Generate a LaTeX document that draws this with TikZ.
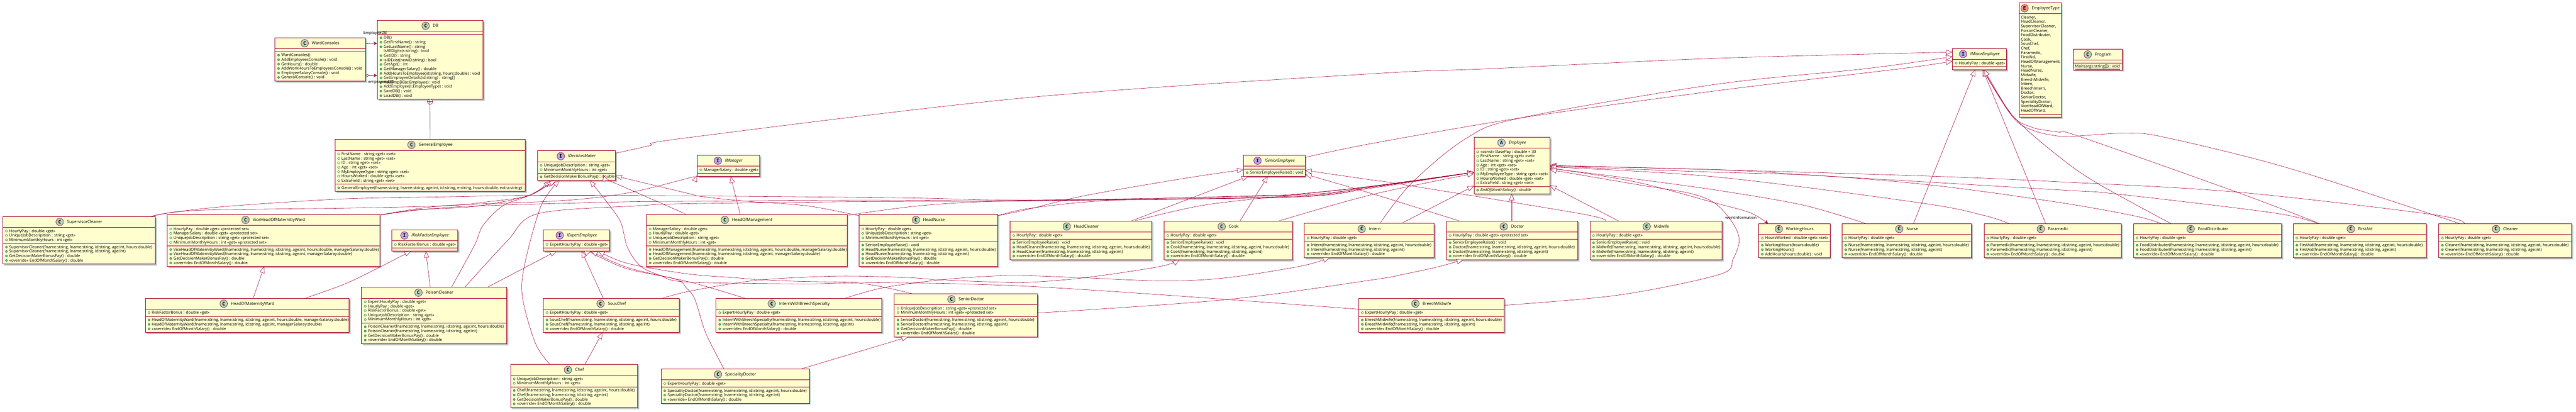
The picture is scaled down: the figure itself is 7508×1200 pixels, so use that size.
\documentclass[tikz,border=0pt]{standalone}
\usepackage{fontspec}
\setmainfont{Open Sans}
\newfontfamily\spotfont{DejaVu Sans Mono}
\usetikzlibrary{arrows.meta,calc}
\definecolor{umlred}{HTML}{A80036}
\definecolor{umlfill}{HTML}{FEFECE}
\definecolor{spotC}{HTML}{ADD1B2}
\definecolor{spotI}{HTML}{B4A7E5}
\definecolor{spotA}{HTML}{A9DCDF}
\definecolor{spotE}{HTML}{EB937F}
\definecolor{markline}{HTML}{038048}
\definecolor{markfill}{HTML}{84BE84}
\newcommand\rowfont{\fontsize{11.55}{13}\selectfont}
\newcommand\titlefont{\fontsize{12}{14}\selectfont}
\def\nm{}
\tikzset{
 x=1pt,y=-1pt,
 classbox/.style={draw=umlred,fill=umlfill,line width=1.1pt,rectangle,inner sep=0pt,outer sep=0pt,anchor=north west},
 sepline/.style={draw=umlred,line width=1pt},
 shadowa/.style={fill=black!14},
 shadowb/.style={fill=black!28},
 spot/.style={circle,draw=umlred,line width=.9pt,inner sep=0pt,minimum size=22pt,font=\spotfont\bfseries\fontsize{14}{14}\selectfont},
 titletxt/.style={anchor=base,inner sep=0pt,outer sep=0pt,font=\titlefont},
 rowtxt/.style={anchor=base west,inner sep=0pt,outer sep=0pt,font=\rowfont},
 lbl/.style={anchor=base west,inner sep=0pt,outer sep=0pt,font=\rowfont},
 attrmark/.style={draw=markline,line width=.8pt},
 methmark/.style={draw=markline,fill=markfill,line width=.8pt},
 link/.style={draw=umlred,line width=.85pt},
 inh/.style={link,line join=miter,-{Triangle[length=19pt,width=15pt,fill=white]}},
 asc/.style={link,-{Stealth[length=11pt,width=10pt,inset=4pt]}},
 agg/.style={link,{Diamond[length=11pt,width=8pt,fill=white]}-{Stealth[length=11pt,width=10pt,inset=4pt]}},
}
% name, kind, title, x1, x2, ytop, nAttrs, nMeths
\newcommand\umlbox[8]{%
 \def\curname{#1}\def\xa{#4}\def\xb{#5}\def\yt{#6}%
 \pgfmathsetmacro\ya{#6+32}%
 \pgfmathsetmacro\ym{\ya+(#7==0?8.5:#7*12.97+8)}%
 \pgfmathsetmacro\ye{\ym+(#8==0?8.5:#8*12.97+8)}%
 \fill[shadowa] (#4+5,#6+5) rectangle (#5+5,\ye+5);
 \fill[shadowb] (#4+3.5,#6+3.5) rectangle (#5+3.5,\ye+3.5);
 \pgfmathsetmacro\bw{#5-#4}\pgfmathsetmacro\bh{\ye-#6}%
 \node[classbox,minimum width=\bw pt,minimum height=\bh pt] (#1) at (#4,#6) {};
 \draw[sepline] (#4,\ya) -- (#5,\ya) (#4,\ym) -- (#5,\ym);
 \pgfmathsetmacro\tx{(#4+#5)/2+16}%
 \node[titletxt] (#1-title) at (\tx,#6+20) {\if#2I\itshape\fi\if#2A\itshape\fi #3};
 \path (#1-title.west) ++(-21,0) coordinate (#1-ic);
 \node[spot,fill=spot#2] (#1-spot) at (#1-ic |- 0,#6+16) {#2};
}
\def\markA#1#2\relax{\ifx#1\nm\else\draw[attrmark] (\xa+10.8,\ry) circle[radius=3pt];\fi}
\def\markM#1#2\relax{\ifx#1\nm\else\draw[methmark] (\xa+10.8,\ry) circle[radius=3pt];\fi}
\newcommand\rowsA[1]{\foreach \t [count=\i] in {#1}{%
  \pgfmathsetmacro\ry{\ya+4+(\i-.5)*12.97}%
  \expandafter\markA\t\relax
  \node[rowtxt] (\curname-a\i) at (\xa+19,\ry+3.8) {\t};}}
\newcommand\rowsM[1]{\foreach \t [count=\i] in {#1}{%
  \pgfmathsetmacro\ry{\ym+4+(\i-.5)*12.97}%
  \expandafter\markM\t\relax
  \node[rowtxt] (\curname-m\i) at (\xa+19,\ry+3.8) {\t};}}
\newcommand\rowsE[1]{\foreach \t [count=\i] in {#1}{%
  \pgfmathsetmacro\ry{\ya+4+(\i-.5)*12.97}%
  \node[rowtxt] (\curname-a\i) at (\xa+5,\ry+3.8) {\t};}}
\newcommand\rowsP[1]{\foreach \t [count=\i] in {#1}{%
  \pgfmathsetmacro\ry{\ym+4+(\i-.5)*12.97}%
  \node[rowtxt] (\curname-m\i) at (\xa+5.5,\ry+3.8) {\underline{\t}};}}
\newcommand\cv[2]{\draw[#1] plot[smooth,tension=.55] coordinates {#2};}
\def\fn{fname:string, lname:string, id:string, age:int}
\def\ov{«override» EndOfMonthSalary() : double}
\def\bp{GetDecisionMakerBonusPay() : double}
\def\hp{HourlyPay : double «get»}
\def\ej{UniqueJobDescripition : string «get»}
\def\mh{MinimumMonthlyHours : int «get»}
\def\sr{SeniorEmployeeRaise() : void}
\begin{document}
\begin{tikzpicture}
\path[use as bounding box,fill=white] (0,0) rectangle (7508,1200);

\umlbox{WardConsoles}{C}{WardConsoles}{801}{1065}{110}{0}{6}
\rowsM{{WardConsoles()},{AddEmployeesConsole() : void},{GetHours() : double},{AddWorkHoursToEmployeesConsole() : void},{EmployeeSalaryConsole() : void},{GeneralConsole() : void}}

\umlbox{DB}{C}{DB}{1099.5}{1408}{59.3}{0}{14}
\rowsM{{DB()},{GetFirstName() : string},{GetLastName() : string},{\nm IsAllDigits(s:string) : bool},{GetID() : string},{isIDExist(newID:string) : bool},{GetAge() : int},{GetManagerSalary() : double},{AddHoursToEmployee(id:string, hours:double) : void},{GetEmployeeDetails(id:string) : string[]},{AddEmpDB(e:Employee) : void},{AddEmployee(t:EmployeeType) : void},{SaveDB() : void},{LoadDB() : void}}

\umlbox{GeneralEmployee}{C}{GeneralEmployee}{976.4}{1530.6}{406.4}{7}{1}
\rowsA{{FirstName : string «get» «set»},{LastName : string «get» «set»},{ID : string «get» «set»},{Age : int «get» «set»},{MyEmployeeType : string «get» «set»},{HoursWorked : double «get» «set»},{ExtraField : string «get» «set»}}
\rowsM{{GeneralEmployee(fname:string, lname:string, age:int, id:string, e:string, hours:double, extra:string)}}

\umlbox{IDecisionMaker}{I}{IDecisionMaker}{1566.3}{1793.4}{439.3}{2}{1}
\rowsA{{\ej},{\mh}}
\rowsM{{\bp}}

\umlbox{SupervisorCleaner}{C}{SupervisorCleaner}{8}{453}{631}{3}{4}
\rowsA{{\hp},{\ej},{\mh}}
\rowsM{{SupervisorCleaner(\fn, hours:double)},{SupervisorCleaner(\fn)},{\bp},{\ov}}

\umlbox{ViceHead}{C}{ViceHeadOfMaternitiyWard}{487}{1106.5}{625.3}{4}{4}
\rowsA{{HourlyPay : double «get» «protected set»},{ManagerSalary : double «get» «protected set»},{UniqueJobDescripition : string «get» «protected set»},{MinimumMonthlyHours : int «get» «protected set»}}
\rowsM{{ViceHeadOfMaternitiyWard(\fn, hours:double, managerSalaray:double)},{ViceHeadOfMaternitiyWard(\fn, managerSalaray:double)},{\bp},{\ov}}

\umlbox{HeadMaternity}{C}{HeadOfMaternityWard}{423.5}{1017.2}{869.4}{1}{3}
\rowsA{{RiskFactorBonus : double «get»}}
\rowsM{{HeadOfMaternityWard(\fn, hours:double, managerSalaray:double)},{HeadOfMaternityWard(\fn, managerSalaray:double)},{\ov}}

\umlbox{IRisk}{I}{IRiskFactorEmployee}{1141.6}{1334.2}{670.4}{1}{0}
\rowsA{{RiskFactorBonus : double «get»}}

\umlbox{IExpert}{I}{IExpertEmployee}{1583.5}{1776.8}{670.4}{1}{0}
\rowsA{{ExpertHourlyPay : double «get»}}

\umlbox{PoisonCleaner}{C}{PoisonCleaner}{1053.6}{1476.4}{837.3}{5}{4}
\rowsA{{ExpertHourlyPay : double «get»},{\hp},{RiskFactorBonus : double «get»},{\ej},{\mh}}
\rowsM{{PoisonCleaner(\fn, hours:double)},{PoisonCleaner(\fn)},{\bp},{\ov}}

\umlbox{SousChef}{C}{SousChef}{1583.5}{1980.2}{869.4}{1}{3}
\rowsA{{ExpertHourlyPay : double «get»}}
\rowsM{{SousChef(\fn, hours:double)},{SousChef(\fn)},{\ov}}

\umlbox{Chef}{C}{Chef}{1487.9}{1858.4}{1062.3}{2}{4}
\rowsA{{\ej},{\mh}}
\rowsM{{Chef(\fn, hours:double)},{Chef(\fn)},{\bp},{\ov}}

\umlbox{HeadMgmt}{C}{HeadOfManagement}{1883.9}{2468.8}{625.3}{4}{4}
\rowsA{{ManagerSalary : double «get»},{\hp},{\ej},{\mh}}
\rowsM{{HeadOfManagement(\fn, hours:double, managerSalaray:double)},{HeadOfManagement(\fn, managerSalaray:double)},{\bp},{\ov}}

\umlbox{HeadNurse}{C}{HeadNurse}{2503.8}{2908.2}{625.3}{3}{5}
\rowsA{{\hp},{\ej},{\mh}}
\rowsM{{\sr},{HeadNurse(\fn, hours:double)},{HeadNurse(\fn)},{\bp},{\ov}}

\umlbox{HeadCleaner}{C}{HeadCleaner}{2943.9}{3357.1}{644.4}{1}{4}
\rowsA{{\hp}}
\rowsM{{\sr},{HeadCleaner(\fn, hours:double)},{HeadCleaner(\fn)},{\ov}}

\umlbox{IManager}{I}{IManager}{2031.9}{2213.6}{452.6}{1}{0}
\rowsA{{ManagerSalary : double «get»}}

\umlbox{ISenior}{I}{ISeniorEmployee}{3624.4}{3803.6}{452.6}{0}{1}
\rowsM{{\sr}}

\umlbox{Cook}{C}{Cook}{3392.9}{3766.6}{644.4}{1}{4}
\rowsA{{\hp}}
\rowsM{{\sr},{Cook(\fn, hours:double)},{Cook(\fn)},{\ov}}

\umlbox{Intern}{C}{Intern}{3801.7}{4179.8}{651.3}{1}{3}
\rowsA{{\hp}}
\rowsM{{Intern(\fn, hours:double)},{Intern(\fn)},{\ov}}

\umlbox{InternBreech}{C}{InternWithBreechSpecialty}{2086.7}{2570.2}{869.4}{1}{3}
\rowsA{{ExpertHourlyPay : double «get»}}
\rowsM{{InternWithBreechSpecialty(\fn, hours:double)},{InternWithBreechSpecialty(\fn)},{\ov}}

\umlbox{SeniorDoctor}{C}{SeniorDoctor}{2606.5}{3023.6}{856.4}{2}{4}
\rowsA{{UniqueJobDescripition : string «get» «protected set»},{MinimumMonthlyHours : int «get» «protected set»}}
\rowsM{{SeniorDoctor(\fn, hours:double)},{SeniorDoctor(\fn)},{\bp},{\ov}}

\umlbox{SpecialityDoctor}{C}{SpecialityDoctor}{1926.7}{2359}{1075.7}{1}{3}
\rowsA{{ExpertHourlyPay : double «get»}}
\rowsM{{SpecialityDoctor(\fn, hours:double)},{SpecialityDoctor(\fn)},{\ov}}

\umlbox{BreechMidwife}{C}{BreechMidwife}{3959.8}{4384}{869.4}{1}{3}
\rowsA{{ExpertHourlyPay : double «get»}}
\rowsM{{BreechMidwife(\fn, hours:double)},{BreechMidwife(\fn)},{\ov}}

\umlbox{Doctor}{C}{Doctor}{4215.6}{4598.2}{644.4}{1}{4}
\rowsA{{HourlyPay : double «get» «protected set»}}
\rowsM{{\sr},{Doctor(\fn, hours:double)},{Doctor(\fn)},{\ov}}

\umlbox{Midwife}{C}{Midwife}{4633.9}{5019.1}{644.4}{1}{4}
\rowsA{{\hp}}
\rowsM{{\sr},{Midwife(\fn, hours:double)},{Midwife(\fn)},{\ov}}

\umlbox{WorkingHours}{C}{WorkingHours}{5125.6}{5333.5}{651.6}{1}{3}
\rowsA{{HoursWorked : double «get» «set»}}
\rowsM{{WorkingHours(hours:double)},{WorkingHours()},{AddHours(hours:double) : void}}

\umlbox{Nurse}{C}{Nurse}{5368.6}{5746.2}{651.6}{1}{3}
\rowsA{{\hp}}
\rowsM{{Nurse(\fn, hours:double)},{Nurse(\fn)},{\ov}}

\umlbox{Paramedic}{C}{Paramedic}{5782.5}{6182.7}{651.6}{1}{3}
\rowsA{{\hp}}
\rowsM{{Paramedic(\fn, hours:double)},{Paramedic(\fn)},{\ov}}

\umlbox{FoodDistributer}{C}{FoodDistributer}{6218}{6650}{651.6}{1}{3}
\rowsA{{\hp}}
\rowsM{{FoodDistributer(\fn, hours:double)},{FoodDistributer(\fn)},{\ov}}

\umlbox{FirstAid}{C}{FirstAid}{6683.6}{7072}{651.6}{1}{3}
\rowsA{{\hp}}
\rowsM{{FirstAid(\fn, hours:double)},{FirstAid(\fn)},{\ov}}

\umlbox{Cleaner}{C}{Cleaner}{7107.7}{7495}{651.6}{1}{3}
\rowsA{{\hp}}
\rowsM{{Cleaner(\fn, hours:double)},{Cleaner(\fn)},{\ov}}

\umlbox{IMinor}{I}{IMinorEmployee}{5690.7}{5848.2}{141.5}{1}{0}
\rowsA{{\hp}}

\umlbox{Employee}{A}{Employee}{4295.9}{4517.2}{400.2}{8}{1}
\rowsA{{«const» BasePay : double = 30},{FirstName : string «get» «set»},{LastName : string «get» «set»},{Age : int «get» «set»},{ID : string «get» «set»},{MyEmployeeType : string «get» «set»},{HoursWorked : double «get» «set»},{ExtraField : string «get» «set»}}
\rowsM{{\textit{EndOfMonthSalary() : double}}}

\umlbox{EmployeeType}{E}{EmployeeType}{5885.2}{6007.7}{8}{22}{0}
\rowsE{{Cleaner,},{HeadCleaner,},{SupervisorCleaner,},{PoisonCleaner,},{FoodDistributer,},{Cook,},{SousChef,},{Chef,},{Paramedic,},{FirstAid,},{HeadOfManagement,},{Nurse,},{HeadNurse,},{Midwife,},{BreechMidwife,},{Intern,},{BreechIntern,},{Doctor,},{SeniorDoctor,},{SpecialityDcotor,},{ViceHeadOfWard,},{HeadOfWard,}}

\umlbox{Program}{C}{Program}{6042.3}{6185.6}{142.9}{0}{1}
\rowsP{{Main(args:string[]) : void}}

% --- connectors ---
\draw[asc] (WardConsoles.east |- 0,127) -- (DB.west |- 0,126.3);
\draw[agg] (WardConsoles.east |- 0,220) -- (DB.west |- 0,220);
\node[circle,draw=umlred,fill=white,line width=.8pt,inner sep=0pt,minimum size=16pt] (nest) at (1253.4,296.6) {};
\draw[umlred,line width=.8pt] (nest.north) -- (nest.south) (nest.west) -- (nest.east);
\draw[black!70,line width=.8pt] (GeneralEmployee.north) -- (nest.south);

% IDecisionMaker
\cv{inh}{(440,0 |- SupervisorCleaner.north) (574,613.4) (1000,607) (1300,600) (1415,589) (1542,570) (1603,0 |- IDecisionMaker.south)}
\cv{inh}{(1107,627) (1223,611) (1383,602) (1542,570) (1612,0 |- IDecisionMaker.south)}
\cv{inh}{(1316,0 |- PoisonCleaner.north) (1383,715) (1408,657) (1466,600) (1542,570) (1620,0 |- IDecisionMaker.south)}
\cv{inh}{(1603,0 |- Chef.north) (1561,1002) (1523,868) (1529,772) (1577,600) (1631,0 |- IDecisionMaker.south)}
\cv{inh}{(2000,0 |- HeadMgmt.north) (1944,600) (1797,536) (1776,0 |- IDecisionMaker.south)}
\cv{inh}{(2504,629) (2351,600) (2172,586.5) (2045,573) (2000,562.6) (IDecisionMaker.east |- 0,513)}
\cv{inh}{(2659,0 |- SeniorDoctor.north) (2510,826.5) (2338,828) (2000,822) (1925,803) (1867,776) (1829,722) (1810,650) (1777,600) (1719,0 |- IDecisionMaker.south)}

% IManager
\draw[inh] (2157.5,0 |- HeadMgmt.north) -- (2129.5,0 |- IManager.south);
\cv{inh}{(1107,627) (1293,600) (1638,585) (1829,562.6) (2000,521) (IManager.west |- 0,511)}

% IRisk, IExpert
\draw[inh] (1254,0 |- PoisonCleaner.north) -- (1241,0 |- IRisk.south);
\cv{inh}{(890,0 |- HeadMaternity.north) (1000,830) (1083,791) (1198,0 |- IRisk.south)}
\draw[inh] (1421,0 |- PoisonCleaner.north) -- (1622,0 |- IExpert.south);
\draw[inh] (1758,0 |- SousChef.north) -- (1695,0 |- IExpert.south);
\cv{inh}{(2110,0 |- SpecialityDoctor.north) (2057,971) (2025,872) (2000,839) (1969,814) (1829,784) (1733,742) (1722.6,0 |- IExpert.south)}
\cv{inh}{(2171,0 |- InternBreech.north) (2064,837) (2000,820) (1829,780) (1722.6,0 |- IExpert.south)}
\cv{inh}{(BreechMidwife.west |- 0,901.6) (3000,835) (2319,820) (2128,808.6) (2000,798) (1829,768) (1743,0 |- IExpert.south)}

% class inheritance
\draw[inh] (738,0 |- HeadMaternity.north) -- (770,0 |- ViceHead.south);
\draw[inh] (1705,0 |- Chef.north) -- (1756,0 |- SousChef.south);
\draw[inh] (2335,0 |- SpecialityDoctor.north) -- (2647,0 |- SeniorDoctor.south);
\cv{inh}{(1931,0 |- SousChef.north) (2000,851) (2128,828) (2242,814) (2446,805) (2638,809) (2740,816) (2893,822) (3000,823) (3159,810) (3376,778) (3437,0 |- Cook.south)}
\cv{inh}{(2463.6,0 |- InternBreech.north) (2574,839) (2740,816) (2893,805) (3000,804) (3159,810) (3395,819) (3574,810) (3791,776) (3875,0 |- Intern.south)}
\cv{inh}{(SeniorDoctor.east |- 0,912.6) (3574,873.6) (4000,816) (4089,800) (4191,778) (4265,0 |- Doctor.south)}

% ISenior
\cv{inh}{(2908.2,629) (3000,609.5) (3159,571) (3446,521) (ISenior.west |- 0,494.7)}
\draw[inh] (3296.6,0 |- HeadCleaner.north) -- (3638,0 |- ISenior.south);
\draw[inh] (3614,0 |- Cook.north) -- (3695,0 |- ISenior.south);
\cv{inh}{(4254,0 |- Doctor.north) (4000,565) (ISenior.east |- 0,508)}
\cv{inh}{(4679,0 |- Midwife.north) (4606,623) (4083,537) (4000,525) (ISenior.east |- 0,496.6)}

% Employee, left
\cv{inh}{(440,0 |- SupervisorCleaner.north) (510,618) (682,600) (1000,580) (1293,574) (1542,570) (2000,571) (2638,577) (3000,583) (3765,569) (4000,544) (Employee.west |- 0,502)}
\cv{inh}{(1107,627) (1223,612) (1400,600) (1800,589) (2000,587) (2500,584) (3000,585) (3765,572) (4000,543) (Employee.west |- 0,502)}
\cv{inh}{(1355,0 |- PoisonCleaner.north) (1478,703) (1568,623) (1861,600) (2000,594) (2500,588) (3000,586) (3765,574) (4000,546) (Employee.west |- 0,502)}
\cv{inh}{(2468.8,628) (2701,598) (3000,584.6) (3765,575) (4000,548) (Employee.west |- 0,502)}
\cv{inh}{(2908.2,629) (3000,607.6) (3223,585) (3638,571) (3765,567) (4000,542.5) (Employee.west |- 0,502)}
\cv{inh}{(3306,0 |- HeadCleaner.north) (3510,598) (3784,567) (4000,544) (Employee.west |- 0,503)}
\cv{inh}{(3727,0 |- Cook.north) (4000,567) (Employee.west |- 0,506)}
\draw[inh] (4085,0 |- Intern.north) -- (Employee.west |- 0,542);
\draw[inh] (4406,0 |- Doctor.north) -- (4406,0 |- Employee.south);
\draw[inh] (4717.5,0 |- Midwife.north) -- (Employee.east |- 0,540.6);

% Employee, right
\cv{inh}{(7183,0 |- Cleaner.north) (7086.5,625) (6519,560) (6000,530) (5631,513.8) (5000,494.7) (Employee.east |- 0,482)}
\cv{inh}{(6755,0 |- FirstAid.north) (6625,620.5) (6163,565) (6000,553.6) (5300,512) (5000,494.7) (Employee.east |- 0,484)}
\cv{inh}{(6298,0 |- FoodDistributer.north) (6221,629.5) (6000,590) (5638,540.6) (5300,512) (5000,502) (Employee.east |- 0,485)}
\cv{inh}{(5854.6,0 |- Paramedic.north) (5784,628.6) (5600,592) (5000,515.7) (Employee.east |- 0,487)}
\cv{inh}{(5437,0 |- Nurse.north) (5255,598) (5000,554) (4733,517.6) (Employee.east |- 0,491)}
\cv{inh}{(BreechMidwife.east |- 0,890) (4720,860) (5012,800) (5051,755) (5069,701) (5051,651.6) (5000,594) (4925,563.6) (4765,537) (Employee.east |- 0,494.7)}
\cv{asc}{(Employee.east |- 0,490) (4765,530) (5000,592) (5100,620) (5153,0 |- WorkingHours.north)}

% IMinor
\cv{inh}{(1793.4,447) (1893,425) (2000,402) (3000,284) (4000,215) (4350,200) (5000,170) (IMinor.west |- 0,152)}
\cv{inh}{(3803.6,459) (4000,418) (4434,343.5) (5000,265) (5542,200) (IMinor.west |- 0,178)}
\cv{inh}{(4022,0 |- Intern.north) (4115,533) (4274,403) (4434,343.5) (5000,246) (5440,200) (IMinor.west |- 0,165)}
\draw[inh] (5577,0 |- Nurse.north) -- (5757,0 |- IMinor.south);
\draw[inh] (5962,0 |- Paramedic.north) -- (5779,0 |- IMinor.south);
\cv{inh}{(6327,0 |- FoodDistributer.north) (6115,535.7) (6000,456) (5867,338) (5781,0 |- IMinor.south)}
\cv{inh}{(6760,0 |- FirstAid.north) (6519,560) (6058,397) (6000,385) (5925,372) (5861,334) (5779,0 |- IMinor.south)}
\cv{inh}{(7168,0 |- Cleaner.north) (6673,491) (6317,402) (6202,388) (6048,397) (6000,397) (5925,380) (5867,341.6) (5783,0 |- IMinor.south)}

% labels
\node[lbl] (lblEmployeeDB) at (1059,99.5) {EmployeeDB};
\node[lbl] (lblemployeesDB) at (1073.4,243) {employeesDB};
\node[lbl] (lblworkInformation) at (5028.7,639.5) {workInformation};
\end{tikzpicture}
\end{document}
